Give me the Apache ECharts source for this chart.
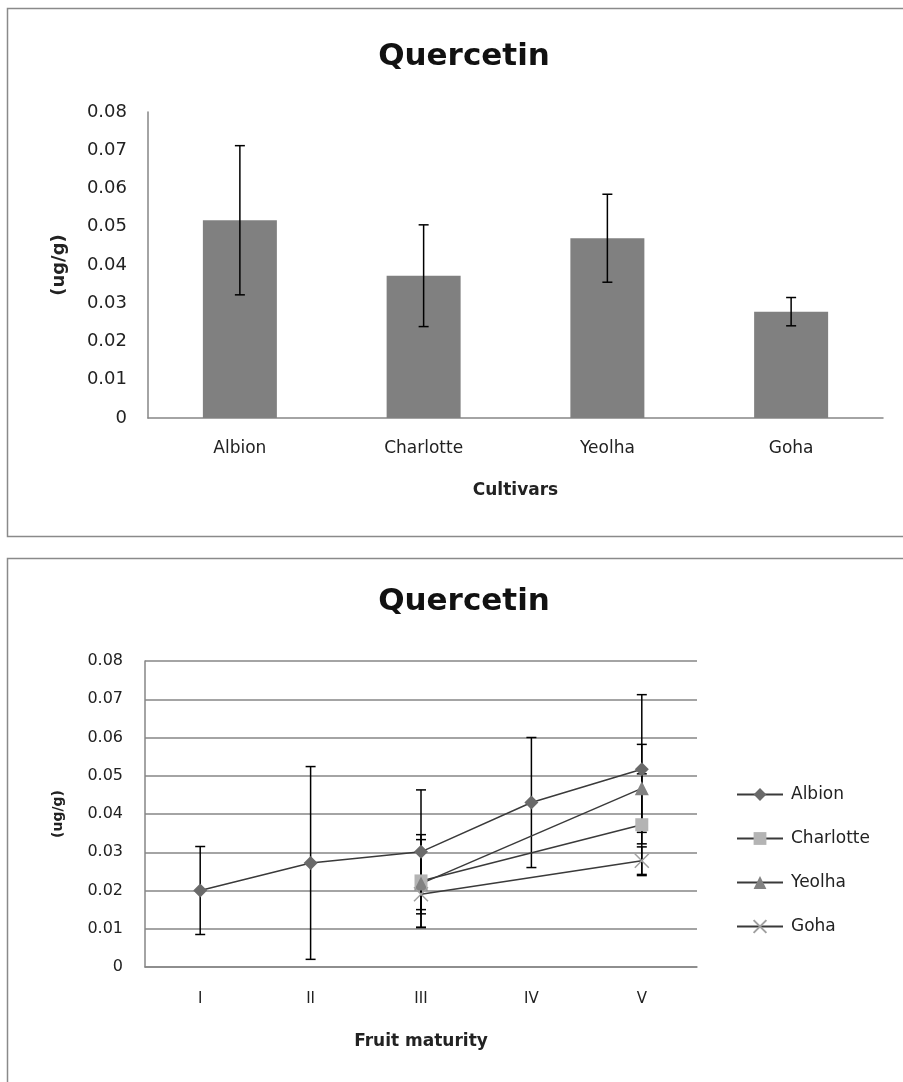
<!DOCTYPE html>
<html>
<head>
<meta charset="utf-8">
<script src="https://cdn.jsdelivr.net/npm/echarts@6/dist/echarts.min.js"></script>
<style>
html,body{margin:0;padding:0;background:#fff;}
#main{width:903px;height:1082px;}
</style>
</head>
<body>
<div id="main"></div>
<script>
// ---- Data ----
const cultivars = ['Albion', 'Charlotte', 'Yeolha', 'Goha'];
const cultivarMeans = [0.0517, 0.0372, 0.0470, 0.0278];
const cultivarErrs = [0.0195, 0.0133, 0.0115, 0.0037];

const stages = ['I', 'II', 'III', 'IV', 'V'];
const albion = [0.0200, 0.0272, 0.0301, 0.0430, 0.0517];
const albionErr = [0.0115, 0.0252, 0.0162, 0.0170, 0.0195];
const charlotte = [null, null, 0.0225, null, 0.0372];
const charlotteErr = [null, null, 0.0121, null, 0.0133];
const yeolha = [null, null, 0.0218, null, 0.0467];
const yeolhaErr = [null, null, 0.0115, null, 0.0115];
const goha = [null, null, 0.0190, null, 0.0278];
const gohaErr = [null, null, 0.0040, null, 0.0036];

const yTicks = { min: 0, max: 0.08, interval: 0.01 };

// ---- Helpers ----
function errData(vals, errs) {
  const out = [];
  vals.forEach((v, i) => { if (v !== null && errs[i] !== null) out.push([i, v, errs[i]]); });
  return out;
}
function errRender(params, api) {
  const i = api.value(0), v = api.value(1), e = api.value(2);
  const t = api.coord([i, v + e]);
  const b = api.coord([i, v - e]);
  const h = 5;
  const st = { stroke: '#000', lineWidth: 1.5 };
  return {
    type: 'group',
    children: [
      { type: 'line', shape: { x1: t[0], y1: t[1], x2: b[0], y2: b[1] }, style: st },
      { type: 'line', shape: { x1: t[0] - h, y1: t[1], x2: t[0] + h, y2: t[1] }, style: st },
      { type: 'line', shape: { x1: b[0] - h, y1: b[1], x2: b[0] + h, y2: b[1] }, style: st }
    ]
  };
}

const FONT = 'DejaVu Sans';
const axisGray = '#868686';
const txt = '#222';

const chart = echarts.init(document.getElementById('main'), null, { renderer: 'canvas' });

function errSeries(name, vals, errs, xi, yi) {
  return {
    type: 'custom', name: name + ' err', xAxisIndex: xi, yAxisIndex: yi,
    renderItem: errRender, data: errData(vals, errs), encode: { x: 0, y: 1 },
    z: 5, silent: true
  };
}

function lineSeries(name, vals, symbol, color, size, extra) {
  return Object.assign({
    type: 'line', name: name, xAxisIndex: 1, yAxisIndex: 1, data: vals,
    connectNulls: true, symbol: symbol, symbolSize: size,
    lineStyle: { color: '#3a3a3a', width: 1.5 },
    itemStyle: { color: color },
    z: 6
  }, extra || {});
}

const option = {
  animation: false,
  backgroundColor: '#fff',
  textStyle: { fontFamily: FONT },
  graphic: [
    { type: 'rect', shape: { x: 7.5, y: 8.5, width: 910, height: 528 }, style: { fill: 'none', stroke: '#8a8a8a', lineWidth: 1.5 }, z: -1 },
    { type: 'rect', shape: { x: 7.5, y: 558.5, width: 910, height: 540 }, style: { fill: 'none', stroke: '#8a8a8a', lineWidth: 1.5 }, z: -1 }
  ],
  title: [
    { text: 'Quercetin', left: 459, top: 36, textAlign: 'center',
      textStyle: { fontFamily: FONT, fontWeight: 'bold', fontSize: 31, color: '#111' } },
    { text: 'Quercetin', left: 459, top: 581, textAlign: 'center',
      textStyle: { fontFamily: FONT, fontWeight: 'bold', fontSize: 31, color: '#111' } }
  ],
  legend: {
    data: ['Albion', 'Charlotte', 'Yeolha', 'Goha'],
    orient: 'vertical', left: 736, top: 786, padding: 0,
    itemWidth: 46, itemHeight: 16, itemGap: 27,
    textStyle: { fontFamily: FONT, fontSize: 17, color: txt, padding: [0, 0, 0, 3] }
  },
  grid: [
    { left: 148, top: 112, width: 735, height: 306 },
    { left: 145, top: 661, width: 552, height: 306 }
  ],
  xAxis: [
    { type: 'category', gridIndex: 0, data: cultivars,
      axisLine: { lineStyle: { color: axisGray, width: 1.5 } }, axisTick: { show: false },
      axisLabel: { fontFamily: FONT, fontSize: 17, color: txt, margin: 22 },
      name: 'Cultivars', nameLocation: 'middle', nameGap: 64,
      nameTextStyle: { fontFamily: FONT, fontWeight: 'bold', fontSize: 17, color: txt } },
    { type: 'category', gridIndex: 1, data: stages,
      axisLine: { lineStyle: { color: axisGray, width: 1.5 } }, axisTick: { show: false },
      axisLabel: { fontFamily: FONT, fontSize: 15, color: txt, margin: 25 },
      name: 'Fruit maturity', nameLocation: 'middle', nameGap: 66,
      nameTextStyle: { fontFamily: FONT, fontWeight: 'bold', fontSize: 17, color: txt } }
  ],
  yAxis: [
    { type: 'value', gridIndex: 0, min: yTicks.min, max: yTicks.max, interval: yTicks.interval,
      axisLine: { show: true, lineStyle: { color: axisGray, width: 1.5 } }, axisTick: { show: false },
      splitLine: { show: false },
      axisLabel: { fontFamily: FONT, fontSize: 18, color: txt, margin: 21 },
      name: '(ug/g)', nameLocation: 'middle', nameRotate: 90, nameGap: 80,
      nameTextStyle: { fontFamily: FONT, fontWeight: 'bold', fontSize: 18, color: txt } },
    { type: 'value', gridIndex: 1, min: yTicks.min, max: yTicks.max, interval: yTicks.interval,
      axisLine: { show: true, lineStyle: { color: axisGray, width: 1.5 } }, axisTick: { show: false },
      splitLine: { show: true, lineStyle: { color: axisGray, width: 1.5 } },
      axisLabel: { fontFamily: FONT, fontSize: 16, color: txt, margin: 22 },
      name: '(ug/g)', nameLocation: 'middle', nameRotate: 90, nameGap: 80,
      nameTextStyle: { fontFamily: FONT, fontWeight: 'bold', fontSize: 14, color: txt } }
  ],
  series: [
    { type: 'bar', name: 'Quercetin', xAxisIndex: 0, yAxisIndex: 0, data: cultivarMeans,
      barWidth: 74, itemStyle: { color: '#808080' }, z: 2 },
    errSeries('cultivar', cultivarMeans, cultivarErrs, 0, 0),
    lineSeries('Albion', albion, 'diamond', '#6a6a6a', 14),
    lineSeries('Charlotte', charlotte, 'rect', '#b4b4b4', 13),
    lineSeries('Yeolha', yeolha, 'triangle', '#828282', 14),
    lineSeries('Goha', goha, 'path://M0,0L10,10M10,0L0,10', 'transparent', 14,
      { itemStyle: { color: 'transparent', borderColor: '#a0a0a0', borderWidth: 1.5 } }),
    errSeries('Albion', albion, albionErr, 1, 1),
    errSeries('Charlotte', charlotte, charlotteErr, 1, 1),
    errSeries('Yeolha', yeolha, yeolhaErr, 1, 1),
    errSeries('Goha', goha, gohaErr, 1, 1)
  ]
};
chart.setOption(option);
</script>
</body>
</html>
